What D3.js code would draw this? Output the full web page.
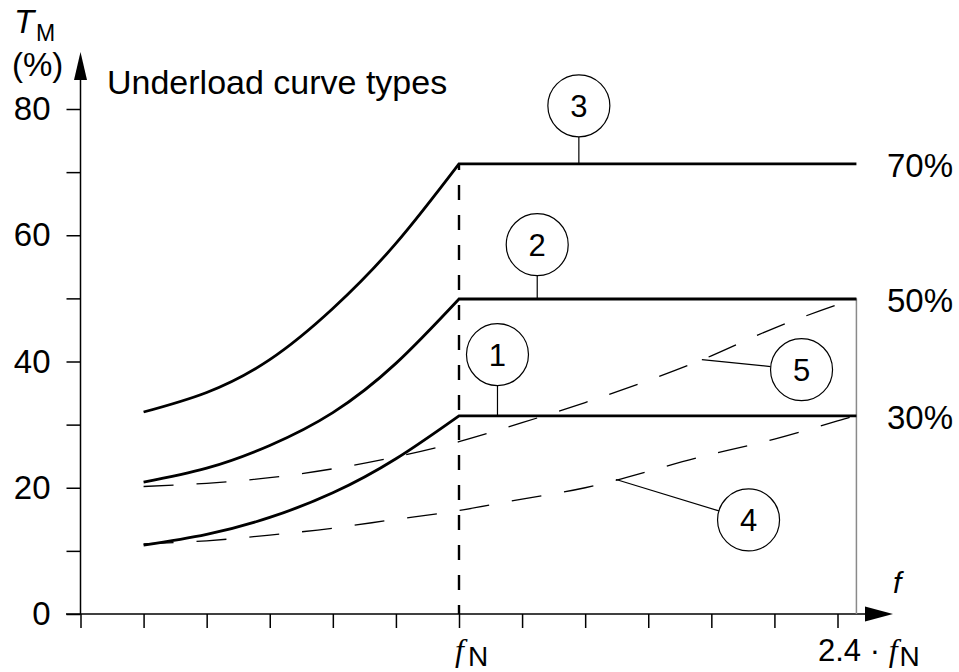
<!DOCTYPE html>
<html><head><meta charset="utf-8">
<script src="https://cdn.jsdelivr.net/npm/d3@7"></script>
<style>
body{margin:0;background:#fff}
svg{display:block}
text{font-family:"Liberation Sans",Arial,sans-serif;fill:#000}
</style>
</head><body>
<svg id="c" width="959" height="672"></svg>
<script>
// ---- data ----
const xTicks = d3.range(0, 13);                 // x ticks (units of fN/6)
const yTicks = [0, 10, 20, 30, 40, 50, 60, 70, 80];
const yTickLabels = ["0", "", "20", "", "40", "", "60", "", "80"];
const fNTick = 6;
const xEnd = 12.3;
const curveX = [1, 2, 3, 4, 5, 6];
const curve1 = [10.9, 12.6, 15.3, 19.2, 24.6, 31.4];
const curve2 = [20.9, 23.1, 26.7, 31.9, 39.7, 49.9];
const curve3 = [32.0, 35.1, 40.3, 48.4, 58.7, 71.3];
const dashX  = [1, 2, 3, 4, 5, 6, 7, 8, 9, 10, 11, 12, 12.3];
const curve4 = [11.1, 11.6, 12.5, 13.6, 15.0, 16.4, 18.2, 20.0, 22.6, 25.3, 27.7, 30.6, 31.4];
const curve5 = [20.2, 20.7, 21.6, 23.0, 24.9, 27.3, 30.3, 33.5, 37.0, 40.9, 45.3, 49.0, 50.0];
const levelLabels = ["30%", "50%", "70%"];
const markerIds = ["1", "2", "3", "4", "5"];
const markerCX = [6.61, 7.24, 7.90, 10.59, 11.43];
const markerCY = [41.1, 58.5, 80.5, 14.9, 38.7];
const markerTX = [6.61, 7.24, 7.90, 8.49, 9.85];
const markerTY = [31.4, 49.9, 71.3, 21.3, 40.3];
const titleText = "Underload curve types";

// ---- layout ----
const svg = d3.select("#c");
const x = d3.scaleLinear().domain([0, 12]).range([80.5, 837.5]);
const y = d3.scaleLinear().domain([0, 80]).range([614, 109]);
const FS = 33;

// axes
const yAx = svg.append("g").attr("transform", `translate(${x(0)},0)`)
  .call(d3.axisLeft(y).tickValues(yTicks).tickSize(14).tickPadding(16)
    .tickFormat((d, i) => yTickLabels[i]));
yAx.select(".domain").remove();
yAx.selectAll("line").attr("stroke", "#000").attr("stroke-width", 1.5);
yAx.selectAll("text").attr("font-size", FS).attr("font-family", "Liberation Sans, Arial, sans-serif").attr("fill", "#000");

const xAx = svg.append("g").attr("transform", `translate(0,${y(0)})`)
  .call(d3.axisBottom(x).tickValues(xTicks).tickSize(14).tickFormat(""));
xAx.select(".domain").remove();
xAx.selectAll("line").attr("stroke", "#000").attr("stroke-width", 1.5);

// axis lines + arrows
svg.append("line").attr("x1", x(0)).attr("x2", x(0)).attr("y1", y(0)).attr("y2", 78)
  .attr("stroke", "#000").attr("stroke-width", 1.5);
svg.append("path").attr("d", `M${x(0)},52 L${x(0) - 6.5},80 L${x(0) + 6.5},80 Z`).attr("fill", "#000");
svg.append("line").attr("x1", 66).attr("x2", 867).attr("y1", y(0)).attr("y2", y(0))
  .attr("stroke", "#000").attr("stroke-width", 1.5);
svg.append("path").attr("d", `M893,${y(0)} L865,${y(0) - 7.5} L865,${y(0) + 7.5} Z`).attr("fill", "#000");

// gray end line
svg.append("line").attr("x1", x(xEnd)).attr("x2", x(xEnd)).attr("y1", y(50)).attr("y2", y(0))
  .attr("stroke", "#8a8a8a").attr("stroke-width", 1.5);

// fN dashed vertical
svg.append("line").attr("x1", x(fNTick)).attr("x2", x(fNTick)).attr("y1", y(curve3[5])).attr("y2", y(0))
  .attr("stroke", "#000").attr("stroke-width", 2.4).attr("stroke-dasharray", "15,15").attr("stroke-dashoffset", 9);

// solid curves
const lineSmooth = d3.line().x(d => x(d[0])).y(d => y(d[1])).curve(d3.curveNatural);
[curve1, curve2, curve3].forEach(c => {
  const pts = curveX.map((v, i) => [v, c[i]]);
  const last = c[c.length - 1];
  svg.append("path").attr("d", lineSmooth(pts) + `L${x(xEnd)},${y(last)}`)
    .attr("fill", "none").attr("stroke", "#000").attr("stroke-width", 2.8).attr("stroke-linejoin", "miter");
});

// dashed curves
[curve4, curve5].forEach(c => {
  const pts = dashX.map((v, i) => [v, c[i]]);
  svg.append("path").attr("d", lineSmooth(pts))
    .attr("fill", "none").attr("stroke", "#000").attr("stroke-width", 1.3).attr("stroke-dasharray", "30,23");
});

// level labels
[curve1, curve2, curve3].forEach((c, i) => {
  svg.append("text").attr("x", 887).attr("y", y(c[c.length - 1]) + 13)
    .attr("font-size", FS).text(levelLabels[i]);
});

// markers
const R = 31;
markerIds.forEach((id, i) => {
  const cx = x(markerCX[i]), cy = y(markerCY[i]);
  const tx = x(markerTX[i]), ty = y(markerTY[i]);
  const dx = tx - cx, dy = ty - cy, L = Math.hypot(dx, dy);
  svg.append("line").attr("x1", cx + R * dx / L).attr("y1", cy + R * dy / L)
    .attr("x2", tx).attr("y2", ty).attr("stroke", "#000").attr("stroke-width", 1.2);
  svg.append("circle").attr("cx", cx).attr("cy", cy).attr("r", R)
    .attr("fill", "#fff").attr("stroke", "#000").attr("stroke-width", 1.2);
  svg.append("text").attr("x", cx).attr("y", cy + 11).attr("text-anchor", "middle")
    .attr("font-size", 31).text(id);
});

// title
svg.append("text").attr("x", 107).attr("y", 94).attr("font-size", 34).text(titleText);

// y label
svg.append("text").attr("x", 14).attr("y", 33).attr("font-size", FS).attr("font-style", "italic").text("T");
svg.append("text").attr("x", 36).attr("y", 41).attr("font-size", 23).text("M");
svg.append("text").attr("x", 12).attr("y", 76).attr("font-size", FS).text("(%)");

// x label
const serifI = "Liberation Serif, Times New Roman, serif";
svg.append("text").attr("x", 893).attr("y", 593).attr("font-size", 30).attr("font-style", "italic")
  .attr("font-family", serifI).text("f");
const fN = svg.append("text").attr("x", 455).attr("y", 661).attr("font-size", 32);
fN.append("tspan").attr("font-style", "italic").attr("font-family", serifI).text("f");
fN.append("tspan").attr("font-size", 28).attr("dy", 5).attr("dx", 4).text("N");
const f24 = svg.append("text").attr("x", 818).attr("y", 661).attr("font-size", 31);
f24.append("tspan").text("2.4 · ");
f24.append("tspan").attr("font-style", "italic").attr("font-family", serifI).attr("font-size", 32).text("f");
f24.append("tspan").attr("font-size", 28).attr("dy", 5).attr("dx", 2).text("N");
</script>
</body></html>
